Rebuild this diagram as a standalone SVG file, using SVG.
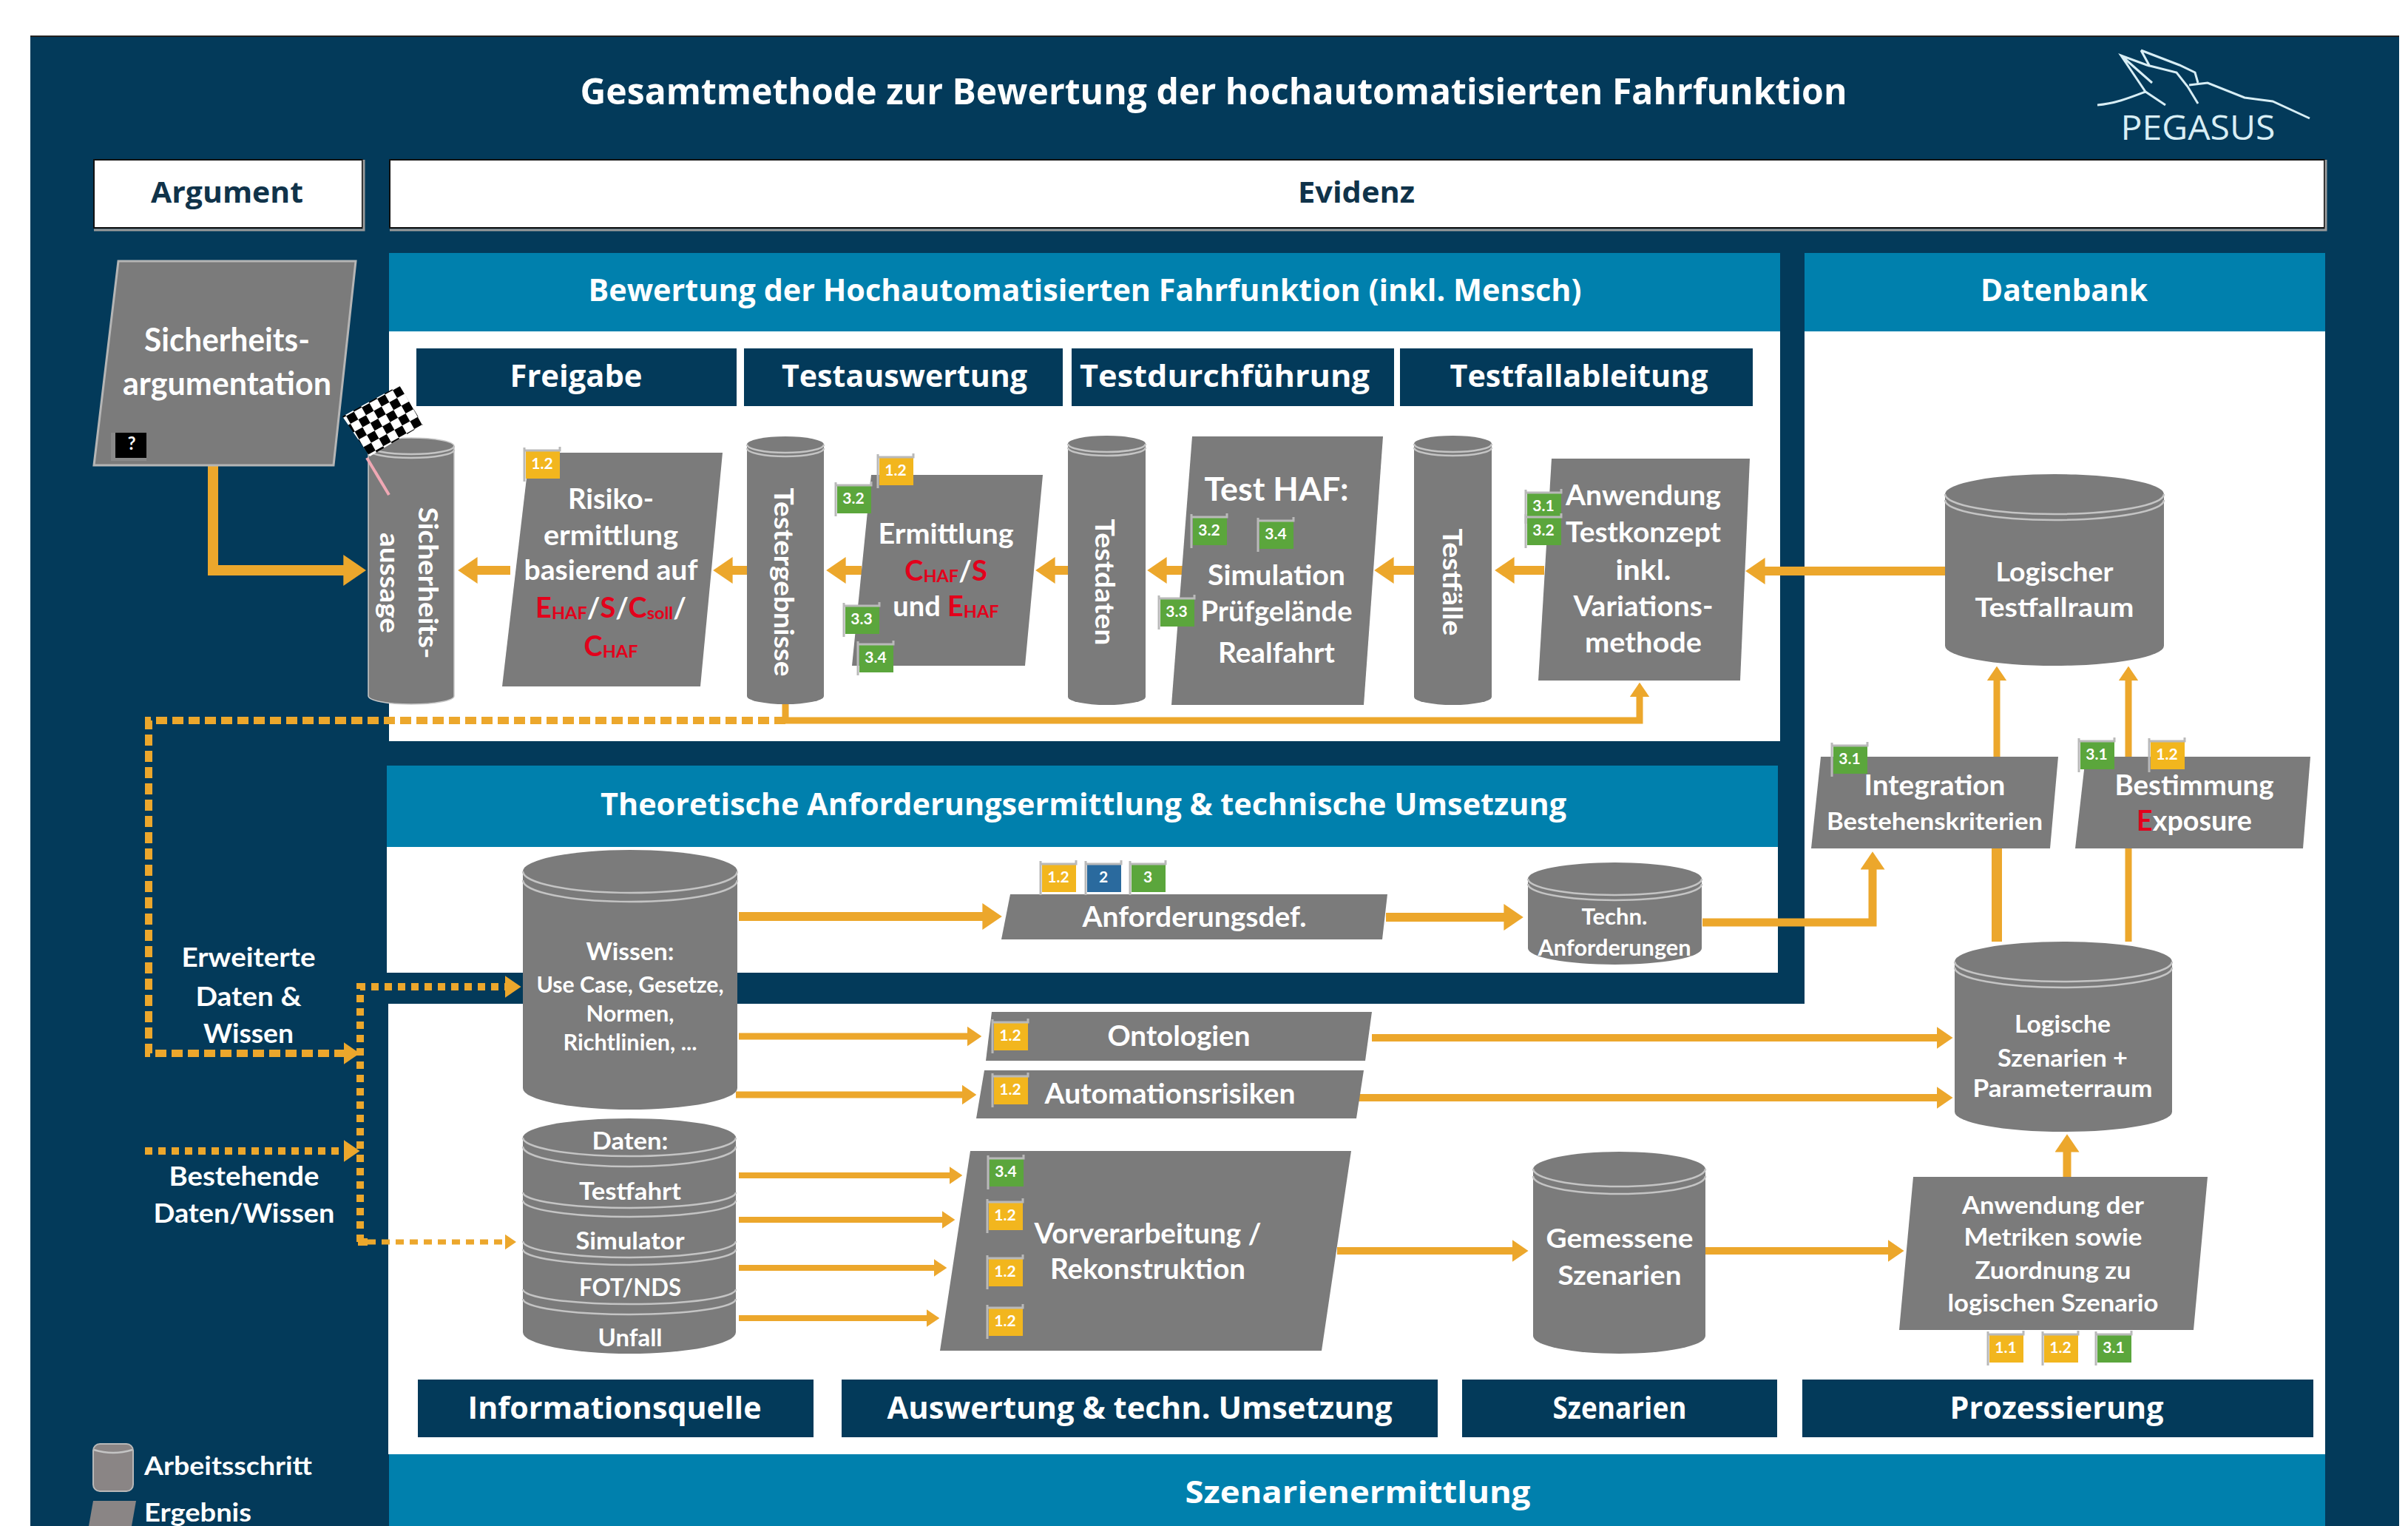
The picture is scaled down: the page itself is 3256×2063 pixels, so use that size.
<svg xmlns="http://www.w3.org/2000/svg" width="3256" height="2063" viewBox="0 0 3256 2063">
<style>
text{dominant-baseline:central;text-anchor:middle;fill:#fff}
text:not([transform]){translate:0 -2.5px}
.h{font-family:"Open Sans","Liberation Sans",sans-serif;font-weight:700}
.n{font-family:Lato,"Liberation Sans",sans-serif;font-weight:700}
.d{fill:#033a5a}
.b{fill:#0080ad}
.w{fill:#fff}
.g{fill:#7b7b7b}
.rim{fill:none;stroke:#c4c4c4;stroke-width:2.5}
.c{fill:none;stroke:#eca72c;stroke-width:12;marker-end:url(#ah)}
.s{fill:none;stroke:#eca72c}
.dash{stroke-dasharray:15 7}
.red{fill:#e3001b}
.sub{font-size:62%}
.by{fill:#f2b61e}.bg{fill:#5ba63c}.bl{fill:#2a6a9e}
.pole{fill:none;stroke:#b9b9b9;stroke-width:3}
.bt{font-family:Lato,"Liberation Sans",sans-serif;font-weight:700;font-size:21px}
</style>
<defs>
<marker id="ah" markerWidth="2.2" markerHeight="3" refX="0.05" refY="1.5" orient="auto" markerUnits="strokeWidth"><path d="M0,0L2.2,1.5L0,3z" fill="#eca72c"/></marker>
<pattern id="chk" width="24" height="24" patternUnits="userSpaceOnUse" patternTransform="rotate(-29 465 563)"><rect width="24" height="24" fill="#fff"/><rect width="12" height="12" fill="#000"/><rect x="12" y="12" width="12" height="12" fill="#000"/></pattern>
<g id="flagpole"><path class="pole" d="M-24,-23V23M-24,-19H24V-24"/></g>
</defs>

<g id="background">
<rect x="41" y="48" width="3203" height="2015" class="d"/>
<rect x="41" y="48" width="3203" height="2" fill="#222"/>
<rect x="526" y="342" width="1881" height="660" class="w"/>
<rect x="526" y="342" width="1881" height="106" class="b"/>
<rect x="523" y="1035" width="1881" height="280" class="w"/>
<rect x="523" y="1035" width="1881" height="110" class="b"/>
<rect x="2440" y="342" width="704" height="1624" class="w"/>
<rect x="2440" y="342" width="704" height="106" class="b"/>
<rect x="525" y="1357" width="1915" height="609" class="w"/>
<rect x="526" y="1966" width="2618" height="97" class="b"/>
</g>

<g id="title"><text class="h" x="1641" y="125" font-size="48" textLength="1713" lengthAdjust="spacingAndGlyphs">Gesamtmethode zur Bewertung der hochautomatisierten Fahrfunktion</text></g>
<g id="logo" fill="none" stroke="#d8eef5" stroke-width="3">
<path d="M2836 142C2860 140 2880 132 2901 124L2928 142M2901 124L2868 75L2903 88L2943 98L2958 117L2972 140M2868 75L2910 112M2895 68L2907 90M2895 68L2947 88L2968 98L2972 112M2960 115L2985 112L3035 132L3073 137L3123 160"/>
<text class="h" x="2972" y="173" font-size="46" style="font-weight:400;fill:#d8eef5" stroke="none" textLength="209" lengthAdjust="spacingAndGlyphs">PEGASUS</text>
</g>

<g id="argument"><rect x="127" y="216" width="363" height="92" class="w" stroke="#111" stroke-width="2"/><path d="M127 311H492V216" fill="none" stroke="#9a9a9a" stroke-width="3"/><text class="h" x="307" y="261" font-size="40" style="fill:#10334a" textLength="206" lengthAdjust="spacingAndGlyphs">Argument</text></g>
<g id="evidenz"><rect x="527" y="216" width="2616" height="92" class="w" stroke="#111" stroke-width="2"/><path d="M527 311H3145V216" fill="none" stroke="#9a9a9a" stroke-width="3"/><text class="h" x="1834" y="261" font-size="40" style="fill:#10334a" textLength="158" lengthAdjust="spacingAndGlyphs">Evidenz</text></g>

<g id="section-labels">
<text class="h" x="1467" y="393" font-size="42" textLength="1343" lengthAdjust="spacingAndGlyphs">Bewertung der Hochautomatisierten Fahrfunktion (inkl. Mensch)</text>
<text class="h" x="2791" y="393" font-size="42" textLength="226" lengthAdjust="spacingAndGlyphs">Datenbank</text>
<text class="h" x="1465" y="1088" font-size="42" textLength="1306" lengthAdjust="spacingAndGlyphs">Theoretische Anforderungsermittlung &amp; technische Umsetzung</text>
<text class="h" x="1836" y="2018" font-size="42" textLength="467" lengthAdjust="spacingAndGlyphs">Szenarienermittlung</text>
<rect x="563" y="471" width="433" height="78" class="d"/><text class="h" x="779" y="509" font-size="42" textLength="179" lengthAdjust="spacingAndGlyphs">Freigabe</text>
<rect x="1006" y="471" width="431" height="78" class="d"/><text class="h" x="1223" y="509" font-size="42" textLength="332" lengthAdjust="spacingAndGlyphs">Testauswertung</text>
<rect x="1449" y="471" width="436" height="78" class="d"/><text class="h" x="1656" y="509" font-size="42" textLength="392" lengthAdjust="spacingAndGlyphs">Testdurchführung</text>
<rect x="1893" y="471" width="477" height="78" class="d"/><text class="h" x="2135" y="509" font-size="42" textLength="349" lengthAdjust="spacingAndGlyphs">Testfallableitung</text>
<rect x="565" y="1865" width="535" height="78" class="d"/><text class="h" x="831" y="1904" font-size="42" textLength="397" lengthAdjust="spacingAndGlyphs">Informationsquelle</text>
<rect x="1138" y="1865" width="806" height="78" class="d"/><text class="h" x="1541" y="1904" font-size="42" textLength="683" lengthAdjust="spacingAndGlyphs">Auswertung &amp; techn. Umsetzung</text>
<rect x="1977" y="1865" width="426" height="78" class="d"/><text class="h" x="2190" y="1904" font-size="42" textLength="181" lengthAdjust="spacingAndGlyphs">Szenarien</text>
<rect x="2437" y="1865" width="691" height="78" class="d"/><text class="h" x="2781" y="1904" font-size="42" textLength="289" lengthAdjust="spacingAndGlyphs">Prozessierung</text>
</g>

<g id="connectors">
<path class="c" style="stroke-width:14" d="M288 629V771H465"/>
<path class="c" d="M690 771H645"/>
<path class="c" d="M1010 771H990"/>
<path class="c" d="M1165 771H1143"/>
<path class="c" d="M1444 771H1426"/>
<path class="c" d="M1603 771H1577"/>
<path class="c" d="M1915 771H1884"/>
<path class="c" d="M2088 771H2047"/>
<path class="c" d="M2633 772H2386"/>
<path class="c" style="stroke-width:9" d="M1062 952V974H2217V942"/>
<path class="c dash" style="stroke-width:10" d="M1062 974H201V1424H465"/>
<path class="c dash" style="stroke-width:10;stroke-dasharray:10 8" d="M196 1556H465"/>
<path class="c dash" style="stroke-width:10;stroke-dasharray:10 8" d="M487 1679V1334H683"/>
<path class="c dash" style="stroke-width:7;stroke-dasharray:11 8" d="M497 1679H683"/>
<path class="s" stroke-width="10" d="M484 1679H497"/>
<path class="c" d="M999 1239H1329"/>
<path class="c" d="M1874 1240H2034"/>
<path class="c" style="stroke-width:11" d="M2302 1247H2532V1175"/>
<path class="c" style="stroke-width:9" d="M999 1401H1308"/>
<path class="c" style="stroke-width:9" d="M995 1480H1301"/>
<path class="c" style="stroke-width:10" d="M1855 1403H2619"/>
<path class="c" style="stroke-width:10" d="M1834 1484H2619"/>
<path class="c" style="stroke-width:8" d="M999 1589H1284"/>
<path class="c" style="stroke-width:8" d="M999 1649H1274"/>
<path class="c" style="stroke-width:8" d="M999 1714H1263"/>
<path class="c" style="stroke-width:8" d="M999 1782H1253"/>
<path class="c" style="stroke-width:10" d="M1808 1691H2045"/>
<path class="c" style="stroke-width:10" d="M2306 1691H2553"/>
<path class="c" style="stroke-width:9" d="M2700 1023V920"/>
<path class="s" stroke-width="14" d="M2700 1273V1147"/>
<path class="c" style="stroke-width:9" d="M2878 1023V920"/>
<path class="s" stroke-width="9" d="M2878 1273V1147"/>
<path class="c" style="stroke-width:11" d="M2795 1591V1557"/>
</g>

<g id="sicherheitsargumentation"><polygon class="g" stroke="#b5b5b5" stroke-width="3" points="160,353 481,353 451,629 127,629"/>
<text class="n" x="307" y="460" font-size="44" textLength="224" lengthAdjust="spacingAndGlyphs">Sicherheits-</text>
<text class="n" x="307" y="519" font-size="44" textLength="282" lengthAdjust="spacingAndGlyphs">argumentation</text>
<rect x="150" y="585" width="48" height="38" fill="#8a8a8a"/><rect x="156" y="585" width="42" height="34" fill="#000"/><text class="n" x="178" y="601" font-size="24">?</text></g>

<g id="sicherheitsaussage"><path class="g" stroke="#c9c9c9" stroke-width="1.500" d="M498 603A58 11 0 0 1 614 603V941A58 11 0 0 1 498 941Z"/><path class="rim" d="M498 603A58 11 0 0 0 614 603M498 608A58 11 0 0 0 614 608"/>
<text class="n" transform="rotate(90 580 788)" x="580" y="788" font-size="36" textLength="205" lengthAdjust="spacingAndGlyphs">Sicherheits-</text>
<text class="n" transform="rotate(90 528 788)" x="528" y="788" font-size="36" textLength="136" lengthAdjust="spacingAndGlyphs">aussage</text></g>

<g id="flag"><line x1="496" y1="619" x2="526" y2="669" stroke="#f0a8b4" stroke-width="4"/><polygon fill="url(#chk)" points="540,521 572,574 500,617 463,563"/></g>

<g id="risikoermittlung"><polygon class="g" points="716,612 977,612 947,928 679,928"/>
<text class="n" x="826" y="675" font-size="38" textLength="116" lengthAdjust="spacingAndGlyphs">Risiko-</text>
<text class="n" x="826" y="724" font-size="38" textLength="182" lengthAdjust="spacingAndGlyphs">ermittlung</text>
<text class="n" x="826" y="771" font-size="38" textLength="235" lengthAdjust="spacingAndGlyphs">basierend auf</text>
<text class="n" x="826" y="822" font-size="38"><tspan class="red">E</tspan><tspan class="red sub" dy="8">HAF</tspan><tspan dy="-8">/</tspan><tspan class="red">S</tspan><tspan>/</tspan><tspan class="red">C</tspan><tspan class="red sub" dy="8">soll</tspan><tspan dy="-8">/</tspan></text>
<text class="n" x="826" y="874" font-size="38"><tspan class="red">C</tspan><tspan class="red sub" dy="8">HAF</tspan></text></g>

<g id="testergebnisse"><path class="g" d="M1010 601A52 11 0 0 1 1114 601V941A52 11 0 0 1 1010 941Z"/><path class="rim" d="M1010 601A52 11 0 0 0 1114 601M1010 606A52 11 0 0 0 1114 606"/>
<text class="n" transform="rotate(90 1061 787)" x="1061" y="787" font-size="36" textLength="255" lengthAdjust="spacingAndGlyphs">Testergebnisse</text></g>

<g id="ermittlung"><polygon class="g" points="1178,642 1410,642 1386,900 1152,900"/>
<text class="n" x="1279" y="722" font-size="38" textLength="183" lengthAdjust="spacingAndGlyphs">Ermittlung</text>
<text class="n" x="1279" y="772" font-size="38"><tspan class="red">C</tspan><tspan class="red sub" dy="8">HAF</tspan><tspan dy="-8">/</tspan><tspan class="red">S</tspan></text>
<text class="n" x="1279" y="820" font-size="38">und <tspan class="red">E</tspan><tspan class="red sub" dy="8">HAF</tspan></text></g>

<g id="testdaten"><path class="g" d="M1444 600A52.500 11 0 0 1 1549 600V942A52.500 11 0 0 1 1444 942Z"/><path class="rim" d="M1444 600A52.500 11 0 0 0 1549 600M1444 605A52.500 11 0 0 0 1549 605"/>
<text class="n" transform="rotate(90 1495 787)" x="1495" y="787" font-size="36" textLength="171" lengthAdjust="spacingAndGlyphs">Testdaten</text></g>

<g id="test-haf"><polygon class="g" points="1612,590 1870,590 1844,953 1584,953"/>
<text class="n" x="1726" y="662" font-size="44" textLength="195" lengthAdjust="spacingAndGlyphs">Test HAF:</text>
<text class="n" x="1726" y="778" font-size="38" textLength="186" lengthAdjust="spacingAndGlyphs">Simulation</text>
<text class="n" x="1726" y="827" font-size="38" textLength="205" lengthAdjust="spacingAndGlyphs">Prüfgelände</text>
<text class="n" x="1726" y="883" font-size="38" textLength="158" lengthAdjust="spacingAndGlyphs">Realfahrt</text></g>

<g id="testfaelle"><path class="g" d="M1912 600A52.500 11 0 0 1 2017 600V942A52.500 11 0 0 1 1912 942Z"/><path class="rim" d="M1912 600A52.500 11 0 0 0 2017 600M1912 605A52.500 11 0 0 0 2017 605"/>
<text class="n" transform="rotate(90 1965 787)" x="1965" y="787" font-size="36" textLength="145" lengthAdjust="spacingAndGlyphs">Testfälle</text></g>

<g id="anwendung-testkonzept"><polygon class="g" points="2098,620 2366,620 2353,920 2080,920"/>
<text class="n" x="2222" y="670" font-size="38" textLength="210" lengthAdjust="spacingAndGlyphs">Anwendung</text>
<text class="n" x="2222" y="720" font-size="38" textLength="210" lengthAdjust="spacingAndGlyphs">Testkonzept</text>
<text class="n" x="2222" y="771" font-size="38" textLength="75" lengthAdjust="spacingAndGlyphs">inkl.</text>
<text class="n" x="2222" y="820" font-size="38" textLength="189" lengthAdjust="spacingAndGlyphs">Variations-</text>
<text class="n" x="2222" y="869" font-size="38" textLength="158" lengthAdjust="spacingAndGlyphs">methode</text></g>

<g id="logischer-testfallraum"><path class="g" d="M2630 668A148 27 0 0 1 2926 668V873A148 27 0 0 1 2630 873Z"/><path class="rim" d="M2630 668A148 27 0 0 0 2926 668M2630 676A148 27 0 0 0 2926 676"/>
<text class="n" x="2778" y="774" font-size="36" textLength="159" lengthAdjust="spacingAndGlyphs">Logischer</text>
<text class="n" x="2778" y="822" font-size="36" textLength="215" lengthAdjust="spacingAndGlyphs">Testfallraum</text></g>

<g id="integration"><polygon class="g" points="2462,1023 2783,1023 2772,1147 2449,1147"/>
<text class="n" x="2616" y="1062" font-size="38" textLength="191" lengthAdjust="spacingAndGlyphs">Integration</text>
<text class="n" x="2616" y="1112" font-size="32" textLength="292" lengthAdjust="spacingAndGlyphs">Bestehenskriterien</text></g>

<g id="bestimmung"><polygon class="g" points="2820,1023 3124,1023 3114,1147 2806,1147"/>
<text class="n" x="2967" y="1062" font-size="38" textLength="215" lengthAdjust="spacingAndGlyphs">Bestimmung</text>
<text class="n" x="2967" y="1110" font-size="38" textLength="156" lengthAdjust="spacingAndGlyphs"><tspan class="red">E</tspan>xposure</text></g>

<g id="logische-szenarien"><path class="g" d="M2643 1300A147 27 0 0 1 2937 1300V1503A147 27 0 0 1 2643 1503Z"/><path class="rim" d="M2643 1300A147 27 0 0 0 2937 1300M2643 1308A147 27 0 0 0 2937 1308"/>
<text class="n" x="2789" y="1386" font-size="32" textLength="130" lengthAdjust="spacingAndGlyphs">Logische</text>
<text class="n" x="2789" y="1432" font-size="32" textLength="176" lengthAdjust="spacingAndGlyphs">Szenarien +</text>
<text class="n" x="2789" y="1473" font-size="32" textLength="243" lengthAdjust="spacingAndGlyphs">Parameterraum</text></g>

<g id="anwendung-metriken"><polygon class="g" points="2587,1591 2985,1591 2966,1798 2568,1798"/>
<text class="n" x="2776" y="1631" font-size="32" textLength="246" lengthAdjust="spacingAndGlyphs">Anwendung der</text>
<text class="n" x="2776" y="1674" font-size="32" textLength="241" lengthAdjust="spacingAndGlyphs">Metriken sowie</text>
<text class="n" x="2776" y="1719" font-size="32" textLength="211" lengthAdjust="spacingAndGlyphs">Zuordnung zu</text>
<text class="n" x="2776" y="1763" font-size="32" textLength="285" lengthAdjust="spacingAndGlyphs">logischen Szenario</text></g>

<g id="wissen"><path class="g" d="M707 1178A145 29 0 0 1 997 1178V1471A145 29 0 0 1 707 1471Z"/><path class="rim" d="M707 1178A145 29 0 0 0 997 1178M707 1190A145 29 0 0 0 997 1190"/>
<text class="n" x="852" y="1288" font-size="32" textLength="119" lengthAdjust="spacingAndGlyphs">Wissen:</text>
<text class="n" x="852" y="1332" font-size="30" textLength="253" lengthAdjust="spacingAndGlyphs">Use Case, Gesetze,</text>
<text class="n" x="852" y="1371" font-size="30" textLength="119" lengthAdjust="spacingAndGlyphs">Normen,</text>
<text class="n" x="852" y="1410" font-size="30" textLength="181" lengthAdjust="spacingAndGlyphs">Richtlinien, ...</text></g>

<g id="daten"><path class="g" d="M707 1538A144 26 0 0 1 995 1538V1801A144 29 0 0 1 707 1801Z"/><path class="rim" d="M707 1538A144 25 0 0 0 995 1538M707 1550A144 27 0 0 0 995 1550M707 1612A144 21 0 0 0 995 1612M707 1623A144 22 0 0 0 995 1623M707 1678A144 22 0 0 0 995 1678M707 1689A144 21 0 0 0 995 1689M707 1743A144 20 0 0 0 995 1743M707 1756A144 21 0 0 0 995 1756"/>
<text class="n" x="852" y="1544" font-size="32" textLength="103" lengthAdjust="spacingAndGlyphs">Daten:</text>
<text class="n" x="852" y="1612" font-size="32" textLength="138" lengthAdjust="spacingAndGlyphs">Testfahrt</text>
<text class="n" x="852" y="1679" font-size="32" textLength="147" lengthAdjust="spacingAndGlyphs">Simulator</text>
<text class="n" x="852" y="1742" font-size="32" textLength="138" lengthAdjust="spacingAndGlyphs">FOT/NDS</text>
<text class="n" x="852" y="1810" font-size="32" textLength="87" lengthAdjust="spacingAndGlyphs">Unfall</text></g>

<g id="anforderungsdef"><polygon class="g" points="1366,1209 1876,1209 1869,1270 1354,1270"/>
<text class="n" x="1615" y="1240" font-size="38" textLength="303" lengthAdjust="spacingAndGlyphs">Anforderungsdef.</text></g>

<g id="techn-anforderungen"><path class="g" d="M2066 1188A117.500 22 0 0 1 2301 1188V1282A117.500 22 0 0 1 2066 1282Z"/><path class="rim" d="M2066 1188A117.500 22 0 0 0 2301 1188M2066 1195A117.500 22 0 0 0 2301 1195"/>
<text class="n" x="2183" y="1240" font-size="30" textLength="89" lengthAdjust="spacingAndGlyphs">Techn.</text>
<text class="n" x="2183" y="1282" font-size="30" textLength="207" lengthAdjust="spacingAndGlyphs">Anforderungen</text></g>

<g id="ontologien"><polygon class="g" points="1341,1368 1855,1368 1846,1434 1333,1434"/>
<text class="n" x="1594" y="1401" font-size="38" textLength="193" lengthAdjust="spacingAndGlyphs">Ontologien</text></g>
<g id="automationsrisiken"><polygon class="g" points="1331,1447 1844,1447 1834,1512 1320,1512"/>
<text class="n" x="1582" y="1479" font-size="38" textLength="339" lengthAdjust="spacingAndGlyphs">Automationsrisiken</text></g>

<g id="vorverarbeitung"><polygon class="g" points="1312,1556 1827,1556 1787,1826 1271,1826"/>
<text class="n" x="1552" y="1668" font-size="38" textLength="307" lengthAdjust="spacingAndGlyphs">Vorverarbeitung /</text>
<text class="n" x="1552" y="1716" font-size="38" textLength="264" lengthAdjust="spacingAndGlyphs">Rekonstruktion</text></g>

<g id="gemessene-szenarien"><path class="g" d="M2073 1581A116.500 24 0 0 1 2306 1581V1806A116.500 24 0 0 1 2073 1806Z"/><path class="rim" d="M2073 1580A116.500 24 0 0 0 2306 1580M2073 1590A116.500 24 0 0 0 2306 1590"/>
<text class="n" x="2190" y="1675" font-size="36" textLength="199" lengthAdjust="spacingAndGlyphs">Gemessene</text>
<text class="n" x="2190" y="1725" font-size="36" textLength="167" lengthAdjust="spacingAndGlyphs">Szenarien</text></g>

<g id="side-labels">
<text class="n" x="336" y="1295" font-size="36" textLength="181" lengthAdjust="spacingAndGlyphs">Erweiterte</text>
<text class="n" x="336" y="1348" font-size="36" textLength="143" lengthAdjust="spacingAndGlyphs">Daten &amp;</text>
<text class="n" x="336" y="1398" font-size="36" textLength="122" lengthAdjust="spacingAndGlyphs">Wissen</text>
<text class="n" x="330" y="1591" font-size="36" textLength="203" lengthAdjust="spacingAndGlyphs">Bestehende</text>
<text class="n" x="330" y="1641" font-size="36" textLength="245" lengthAdjust="spacingAndGlyphs">Daten/Wissen</text>
</g>

<g id="legend">
<rect x="126" y="1952" width="54" height="64" rx="9" fill="#8a8585" stroke="#b8b8b8" stroke-width="2"/><path class="rim" d="M127 1960Q153 1968 179 1960"/>
<text class="n" x="195" y="1983" font-size="34" style="text-anchor:start" textLength="227" lengthAdjust="spacingAndGlyphs">Arbeitsschritt</text>
<polygon points="126,2029 184,2029 178,2063 120,2063" fill="#8a8585"/>
<text class="n" x="195" y="2046" font-size="34" style="text-anchor:start" textLength="145" lengthAdjust="spacingAndGlyphs">Ergebnis</text>
</g>

<g id="badges">
<g transform="translate(733 628)"><rect class="by" x="-22" y="-19" width="46" height="38"/><use href="#flagpole"/><text class="bt">1.2</text></g>
<g transform="translate(1211 637)"><rect class="by" x="-22" y="-19" width="46" height="38"/><use href="#flagpole"/><text class="bt">1.2</text></g>
<g transform="translate(1154 675)"><rect class="bg" x="-22" y="-19" width="46" height="38"/><use href="#flagpole"/><text class="bt">3.2</text></g>
<g transform="translate(1165 838)"><rect class="bg" x="-22" y="-19" width="46" height="38"/><use href="#flagpole"/><text class="bt">3.3</text></g>
<g transform="translate(1184 890)"><rect class="bg" x="-22" y="-19" width="46" height="38"/><use href="#flagpole"/><text class="bt">3.4</text></g>
<g transform="translate(1635 718)"><rect class="bg" x="-22" y="-19" width="46" height="38"/><use href="#flagpole"/><text class="bt">3.2</text></g>
<g transform="translate(1725 723)"><rect class="bg" x="-22" y="-19" width="46" height="38"/><use href="#flagpole"/><text class="bt">3.4</text></g>
<g transform="translate(1591 828)"><rect class="bg" x="-22" y="-19" width="46" height="38"/><use href="#flagpole"/><text class="bt">3.3</text></g>
<g transform="translate(2087 685)"><rect class="bg" x="-22" y="-19" width="46" height="38"/><use href="#flagpole"/><text class="bt">3.1</text></g>
<g transform="translate(2087 718)"><rect class="bg" x="-22" y="-19" width="46" height="38"/><use href="#flagpole"/><text class="bt">3.2</text></g>
<g transform="translate(2501 1027)"><rect class="bg" x="-22" y="-19" width="46" height="38"/><use href="#flagpole"/><text class="bt">3.1</text></g>
<g transform="translate(2835 1021)"><rect class="bg" x="-22" y="-19" width="46" height="38"/><use href="#flagpole"/><text class="bt">3.1</text></g>
<g transform="translate(2930 1021)"><rect class="by" x="-22" y="-19" width="46" height="38"/><use href="#flagpole"/><text class="bt">1.2</text></g>
<g transform="translate(2712 1823)"><rect class="by" x="-22" y="-19" width="46" height="38"/><use href="#flagpole"/><text class="bt">1.1</text></g>
<g transform="translate(2786 1823)"><rect class="by" x="-22" y="-19" width="46" height="38"/><use href="#flagpole"/><text class="bt">1.2</text></g>
<g transform="translate(2858 1823)"><rect class="bg" x="-22" y="-19" width="46" height="38"/><use href="#flagpole"/><text class="bt">3.1</text></g>
<g transform="translate(1431 1187)"><rect class="by" x="-22" y="-19" width="46" height="38"/><use href="#flagpole"/><text class="bt">1.2</text></g>
<g transform="translate(1492 1187)"><rect class="bl" x="-22" y="-19" width="46" height="38"/><use href="#flagpole"/><text class="bt">2</text></g>
<g transform="translate(1552 1187)"><rect class="bg" x="-22" y="-19" width="46" height="38"/><use href="#flagpole"/><text class="bt">3</text></g>
<g transform="translate(1366 1401)"><rect class="by" x="-22" y="-19" width="46" height="38"/><use href="#flagpole"/><text class="bt">1.2</text></g>
<g transform="translate(1366 1474)"><rect class="by" x="-22" y="-19" width="46" height="38"/><use href="#flagpole"/><text class="bt">1.2</text></g>
<g transform="translate(1360 1585)"><rect class="bg" x="-22" y="-19" width="46" height="38"/><use href="#flagpole"/><text class="bt">3.4</text></g>
<g transform="translate(1359 1644)"><rect class="by" x="-22" y="-19" width="46" height="38"/><use href="#flagpole"/><text class="bt">1.2</text></g>
<g transform="translate(1359 1720)"><rect class="by" x="-22" y="-19" width="46" height="38"/><use href="#flagpole"/><text class="bt">1.2</text></g>
<g transform="translate(1359 1787)"><rect class="by" x="-22" y="-19" width="46" height="38"/><use href="#flagpole"/><text class="bt">1.2</text></g>
</g>
</svg>
